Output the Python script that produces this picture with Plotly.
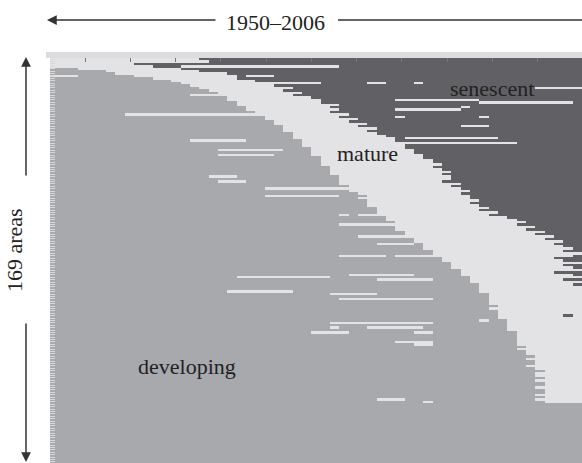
import plotly.graph_objects as go

years = list(range(1950, 2007))
state_codes = {"D": 0, "M": 1, "S": 2}
state_names = ["developing", "mature", "senescent"]
state_colors = ["#a8a9ad", "#e3e3e5", "#616165"]

# each row: runs "Xn" = state X up to (exclusive) column n
rows = [
    "M16 S57", "M17 S57", "M9 S57", "M11 S14 M31 S57", "D3 M14 S57",
    "D6 M16 S57", "D7 M19 S57", "M3 D9 M20 S21 M24 S57", "D11 M20 S57", "D13 M22 S57",
    "D14 M29 S34 M36 S39 M40 S57", "D15 M24 S57", "D16 M26 S52 M57", "D17 M25 S57", "D18 M27 S57",
    "D15 M26 S57", "D19 M28 S57", "D19 M29 S37 M46 S57", "D20 M29 S46 M56 S57", "D20 M31 S57",
    "D21 M30 S44 M45 S57", "D21 M31 S37 M44 S57", "D22 M30 S57", "D8 M32 S57", "D23 M31 S37 M38 S46 M47 S57",
    "D23 M33 S57", "D24 M32 S57", "D24 M34 S57", "D25 M33 S44 M47 S57", "D25 M35 S57",
    "D25 M34 S57", "D26 M35 S57", "D26 M36 S57", "D26 M37 S38 M48 S57", "D15 M21 D27 M37 S57",
    "D27 M50 S57", "D27 M38 S57", "D28 M38 S57", "D18 M25 D28 M39 S57", "D28 M39 S57",
    "D18 M24 D28 M40 S57", "D29 M40 S57", "D29 M41 S57", "D29 M41 S57", "D29 M42 S57",
    "D30 M41 S57", "D30 M42 S57", "D30 M43 S57", "D30 M42 S57", "D17 M20 D31 M43 S57",
    "D31 M43 S57", "D18 M21 D31 M42 S57", "D31 M44 S57", "D32 M43 S57", "D23 M44 S57",
    "D32 M45 S57", "D33 M44 S57", "D23 M31 D34 M45 S57", "D33 M45 S57", "D34 M46 S57",
    "D34 M45 S57", "D34 M46 S57", "D35 M47 S57", "D35 M46 S57", "D35 M48 S57",
    "D31 M32 D33 M47 S57", "D36 M49 S57", "D36 M50 S57", "D37 M51 S57", "D31 M50 S57",
    "D37 M52 S57", "D37 M51 S57", "D38 M53 S57", "D38 M52 S57", "D33 M54 S57",
    "D39 M53 S57", "D39 M55 S57", "D35 M39 D40 M54 S57", "D40 M55 S57", "D40 M56 S57",
    "D41 M55 S57", "D41 M57", "D31 M36 D37 M56 S57", "D42 M54 S57", "D42 M55 S57",
    "D43 M57", "D43 M55 S57", "D43 M56 S57", "D44 M57", "D44 M54 S57",
    "D32 M39 D44 M56 S57", "D20 M30 D45 M57", "D35 M41 D45 M55 S57", "D45 M57", "D46 M56 S57",
    "D46 M57", "D46 M57", "D19 M26 D46 M57", "D30 M35 D47 M57", "D47 M57",
    "D31 M41 D47 M57", "D47 M57", "D47 M57", "D48 M57", "D47 M57",
    "D48 M57", "D48 M57", "D48 M55 S56 M57", "D48 M57", "D46 M47 D49 M57",
    "D30 M41 D49 M57", "D49 M57", "D30 M31 D34 M40 D49 M57", "D49 M57", "D28 M32 D39 M41 D50 M57",
    "D50 M57", "D50 M57", "D50 M57", "D37 M41 D50 M57", "D39 M41 D50 M57",
    "D51 M57", "D50 M57", "D51 M57", "D51 M57", "D52 M57",
    "D51 M57", "D52 M57", "D52 M57", "D51 M57", "D52 M57",
    "D53 M57", "D52 M57", "D52 M57", "D53 M57", "D52 M57",
    "D53 M57", "D53 M57", "D52 M57", "D53 M57", "D53 M57",
    "D52 M57", "D53 M57", "D35 M38 D52 M57", "D40 M41 D53 M57",
] + ["D57"] * 25

area_ids = list(range(1, len(rows) + 1))


def decode(row):
    out = []
    for tok in row.split():
        code = state_codes[tok[0]]
        end = int(tok[1:])
        out.extend([code] * (end - len(out)))
    return out


z = [decode(r) for r in rows]

W, H = 582, 463
L, T = 50, 58
pw, ph = W - L, H - T


def px(x):
    return (x - L) / pw


def py(y):
    return (H - y) / ph


cs = [[0.0, state_colors[0]], [0.3333, state_colors[0]],
      [0.3333, state_colors[1]], [0.6667, state_colors[1]],
      [0.6667, state_colors[2]], [1.0, state_colors[2]]]

fig = go.Figure(go.Heatmap(
    z=z, x=years, y=area_ids, zmin=0, zmax=2, colorscale=cs,
    showscale=False, hoverinfo="skip"))

serif = "Liberation Serif, Times New Roman, serif"
fig.update_layout(
    width=W, height=H, margin=dict(l=L, r=0, t=T, b=0),
    paper_bgcolor="white", plot_bgcolor="white",
    xaxis=dict(range=[1949.5, 2006.5], side="top", showgrid=False, zeroline=False,
               showticklabels=False, ticks="inside", ticklen=4, tickcolor="#777",
               tick0=1953.25, dtick=4.85, showline=False),
    yaxis=dict(range=[len(rows) + 0.5, 0.5], showgrid=False, zeroline=False,
               showticklabels=False, ticks="inside", ticklen=5, tickcolor="#d8d8da",
               tick0=1, dtick=1, tickwidth=1),
    showlegend=False,
)

# light axis band on top
fig.add_shape(type="rect", xref="paper", yref="paper", x0=px(46), x1=1.02,
              y0=1.0, y1=py(52), fillcolor="#dcdcde", line_width=0, layer="below")

annots = [
    dict(text="senescent", x=px(492), y=py(88)),
    dict(text="mature", x=px(367), y=py(153)),
    dict(text="developing", x=px(187), y=py(366)),
]
for a in annots:
    fig.add_annotation(xref="paper", yref="paper", showarrow=False,
                       xanchor="center", yanchor="middle",
                       font=dict(family=serif, size=22, color="#222"), **a)

fig.add_annotation(xref="paper", yref="paper", x=px(275), y=py(22), text="1950–2006",
                   xanchor="center", yanchor="middle",
                   showarrow=False, font=dict(family=serif, size=22, color="#222"))
fig.add_annotation(xref="paper", yref="paper", x=px(14), y=py(250), text="169 areas",
                   xanchor="center", yanchor="middle",
                   textangle=-90, showarrow=False,
                   font=dict(family=serif, size=22, color="#222"))

# arrows
arrow_col = "#333"
fig.add_annotation(xref="paper", yref="paper", x=px(47), y=py(20), ax=170, ay=0,
                   text="", showarrow=True, arrowhead=2, arrowsize=1.3,
                   arrowwidth=1.5, arrowcolor=arrow_col)
fig.add_shape(type="line", xref="paper", yref="paper", x0=px(338), x1=px(600),
              y0=py(20), y1=py(20), line=dict(color=arrow_col, width=1.5))
fig.add_annotation(xref="paper", yref="paper", x=px(26), y=py(57), ax=0, ay=120,
                   text="", showarrow=True, arrowhead=2, arrowsize=1.3,
                   arrowwidth=1.5, arrowcolor=arrow_col)
fig.add_annotation(xref="paper", yref="paper", x=px(26), y=py(462), ax=0, ay=-140,
                   text="", showarrow=True, arrowhead=2, arrowsize=1.3,
                   arrowwidth=1.5, arrowcolor=arrow_col)

fig.write_html("out.html", config={"displayModeBar": False},
               post_script="document.body.style.margin='0';document.body.style.overflow='hidden';")
